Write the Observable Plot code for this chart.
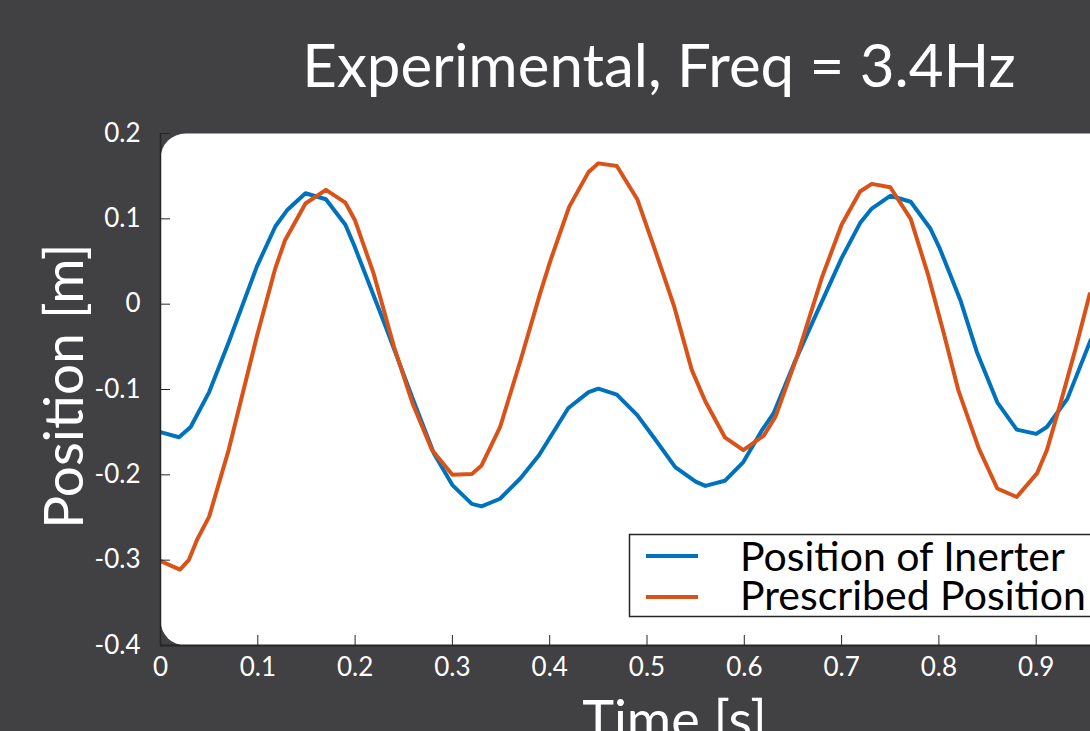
<!DOCTYPE html>
<html>
<head>
<meta charset="utf-8">
<script src="https://cdn.jsdelivr.net/npm/d3@7"></script>
<script src="https://cdn.jsdelivr.net/npm/@observablehq/plot@0.6"></script>
<style>
  html, body { margin: 0; padding: 0; background: #414042; overflow: hidden; width: 1090px; height: 731px; }
  #chart { position: absolute; left: 0; top: 0; width: 1160px; }
  #chart svg { max-width: none !important; }
</style>
</head>
<body>
<div id="chart"></div>
<script>
// ---- data ----
const titleText = "Experimental, Freq = 3.4Hz";
const xLabelText = "Time [s]";
const yLabelText = "Position [m]";
const seriesNames = ["Position of Inerter", "Prescribed Position"];
const seriesColors = ["#0072BD", "#D95319"];

const xTicks = [0, 0.1, 0.2, 0.3, 0.4, 0.5, 0.6, 0.7, 0.8, 0.9];
const xTickLabels = ["0", "0.1", "0.2", "0.3", "0.4", "0.5", "0.6", "0.7", "0.8", "0.9"];
const yTicks = [-0.4, -0.3, -0.2, -0.1, 0, 0.1, 0.2];
const yTickLabels = ["-0.4", "-0.3", "-0.2", "-0.1", "0", "0.1", "0.2"];

const inerterTime = [0.000, 0.019, 0.031, 0.050, 0.070, 0.099, 0.118, 0.130, 0.149, 0.170,
  0.190, 0.199, 0.230, 0.260, 0.281, 0.300, 0.320, 0.330, 0.349, 0.370,
  0.389, 0.419, 0.440, 0.450, 0.469, 0.490, 0.510, 0.529, 0.550, 0.560,
  0.580, 0.599, 0.618, 0.630, 0.651, 0.671, 0.700, 0.719, 0.731, 0.750,
  0.771, 0.791, 0.801, 0.822, 0.839, 0.860, 0.880, 0.900, 0.911, 0.932, 0.956];
const inerterPos = [-0.150, -0.156, -0.144, -0.103, -0.045, 0.044, 0.091, 0.110, 0.130, 0.123,
  0.093, 0.069, -0.022, -0.113, -0.175, -0.212, -0.234, -0.237, -0.228, -0.204,
  -0.177, -0.122, -0.103, -0.099, -0.106, -0.130, -0.161, -0.191, -0.208, -0.213,
  -0.207, -0.185, -0.148, -0.128, -0.070, -0.019, 0.054, 0.095, 0.112, 0.127,
  0.120, 0.089, 0.065, 0.005, -0.056, -0.115, -0.147, -0.152, -0.144, -0.111, -0.042];

const prescribedTime = [0.000, 0.020, 0.029, 0.038, 0.050, 0.070, 0.099, 0.118, 0.128, 0.149,
  0.170, 0.190, 0.200, 0.219, 0.240, 0.259, 0.279, 0.300, 0.320, 0.330,
  0.349, 0.370, 0.390, 0.401, 0.420, 0.440, 0.450, 0.469, 0.490, 0.509,
  0.528, 0.546, 0.560, 0.580, 0.599, 0.620, 0.632, 0.654, 0.680, 0.700,
  0.719, 0.731, 0.750, 0.771, 0.789, 0.805, 0.820, 0.841, 0.860, 0.880,
  0.901, 0.911, 0.925, 0.941, 0.955];
const prescribedPos = [-0.301, -0.311, -0.300, -0.275, -0.249, -0.171, -0.038, 0.042, 0.075, 0.118,
  0.134, 0.119, 0.098, 0.036, -0.050, -0.116, -0.171, -0.200, -0.199, -0.189,
  -0.144, -0.066, 0.012, 0.052, 0.114, 0.155, 0.165, 0.162, 0.123, 0.061,
  -0.003, -0.077, -0.114, -0.156, -0.171, -0.154, -0.132, -0.062, 0.032, 0.093,
  0.132, 0.141, 0.137, 0.100, 0.034, -0.034, -0.101, -0.169, -0.216, -0.226,
  -0.198, -0.171, -0.116, -0.050, 0.012];

// ---- build tables ----
const inerter = inerterTime.map((t, i) => ({t, v: inerterPos[i]}));
const prescribed = prescribedTime.map((t, i) => ({t, v: prescribedPos[i]}));
const fmtX = d => xTickLabels[xTicks.findIndex(v => Math.abs(v - d) < 1e-9)];
const fmtY = d => yTickLabels[yTicks.findIndex(v => Math.abs(v - d) < 1e-9)];

const FONT = "Lato, 'Open Sans', sans-serif";
const axisDark = "#262626";

const chart = Plot.plot({
  width: 1160,
  height: 731,
  marginLeft: 160,
  marginRight: 27,
  marginTop: 133,
  marginBottom: 86,
  style: {background: "#414042", fontFamily: FONT, overflow: "visible", maxWidth: "none"},
  x: {domain: [0, 1]},
  y: {domain: [-0.4, 0.2]},
  marks: [
    Plot.frame({fill: "white", stroke: null, rx: 25, ry: 25}),
    Plot.line(inerter, {x: "t", y: "v", stroke: seriesColors[0], strokeWidth: 4, clip: true}),
    Plot.line(prescribed, {x: "t", y: "v", stroke: seriesColors[1], strokeWidth: 4, clip: true}),
    Plot.ruleX([0], {stroke: axisDark, strokeWidth: 1.5}),
    Plot.ruleY([-0.4], {stroke: axisDark, strokeWidth: 2}),
    Plot.axisX({ticks: xTicks, tickFormat: fmtX, tickSize: -10, tickPadding: 22, stroke: axisDark, fill: "white", fontSize: 26, label: null}),
    Plot.axisY({ticks: yTicks, tickFormat: fmtY, tickSize: -10, tickPadding: 30, stroke: axisDark, fill: "white", fontSize: 26, label: null})
  ]
});
chart.style.maxWidth = "none";
chart.style.width = "1160px";
chart.style.height = "731px";
document.getElementById("chart").appendChild(chart);

// ---- titles, axis labels, legend ----
const svg = d3.select(chart);
svg.append("text")
  .attr("x", 659).attr("y", 87)
  .attr("text-anchor", "middle")
  .attr("fill", "white").attr("font-family", FONT).attr("font-size", 60)
  .text(titleText);
svg.append("text")
  .attr("transform", "translate(83,386) rotate(-90)")
  .attr("text-anchor", "middle")
  .attr("fill", "white").attr("font-family", FONT).attr("font-size", 55)
  .text(yLabelText);
svg.append("text")
  .attr("x", 674.5).attr("y", 739)
  .attr("text-anchor", "middle")
  .attr("fill", "white").attr("font-family", FONT).attr("font-size", 54)
  .text(xLabelText);

const lg = svg.append("g");
lg.append("rect").attr("x", 629.5).attr("y", 534.5).attr("width", 520).attr("height", 82)
  .attr("fill", "white").attr("stroke", axisDark).attr("stroke-width", 1.5);
const rowY = [556, 597];
const textY = [571, 610];
seriesNames.forEach((name, i) => {
  lg.append("line").attr("x1", 646).attr("x2", 698).attr("y1", rowY[i]).attr("y2", rowY[i])
    .attr("stroke", seriesColors[i]).attr("stroke-width", 4);
  lg.append("text").attr("x", 740).attr("y", textY[i])
    .attr("text-anchor", "start")
    .attr("fill", "black").attr("font-family", FONT).attr("font-size", 41)
    .text(name);
});
</script>
</body>
</html>
